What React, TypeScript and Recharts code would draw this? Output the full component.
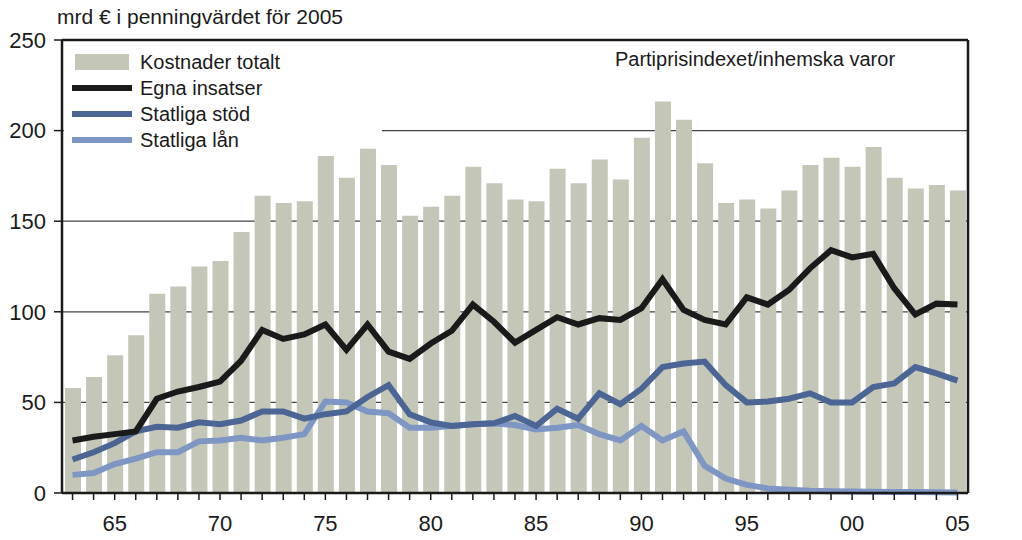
import { Bar, CartesianGrid, ComposedChart, Line, ReferenceLine, XAxis, YAxis } from 'recharts';

const years = [
  1963, 1964, 1965, 1966, 1967, 1968, 1969, 1970, 1971, 1972, 1973, 1974, 1975, 1976, 1977,
  1978, 1979, 1980, 1981, 1982, 1983, 1984, 1985, 1986, 1987, 1988, 1989, 1990, 1991, 1992,
  1993, 1994, 1995, 1996, 1997, 1998, 1999, 2000, 2001, 2002, 2003, 2004, 2005,
];

const kostnaderTotalt = [
  58, 64, 76, 87, 110, 114, 125, 128, 144, 164, 160, 161, 186, 174, 190,
  181, 153, 158, 164, 180, 171, 162, 161, 179, 171, 184, 173, 196, 216, 206,
  182, 160, 162, 157, 167, 181, 185, 180, 191, 174, 168, 170, 167,
];

const egnaInsatser = [
  29, 31, 32.5, 34, 52, 56, 58.5, 61.5, 73, 90, 85, 87.5, 93, 79, 93,
  78, 74, 82.5, 89.5, 104, 94.5, 83, 90, 97, 93, 96.5, 95.5, 102, 118, 101,
  95.5, 93, 108, 104, 112, 124, 134, 130, 132, 113, 98.5, 104.5, 104,
];

const statligaStod = [
  18.5, 22.5, 27.5, 34, 36.5, 36, 39, 38, 40, 45, 45, 41, 43.5, 45, 53,
  59.5, 43.5, 39, 37, 38, 38.5, 42.5, 37, 46.5, 41, 55, 49, 57.5, 69.5, 71.5,
  72.5, 59.5, 50, 50.5, 52, 55, 50, 50, 58.5, 60.5, 69.5, 66, 62,
];

const statligaLan = [
  10, 11, 16, 19, 22.5, 22.5, 28.5, 29, 30.5, 29, 30.5, 32.5, 50.5, 50, 45,
  44, 36, 36, 37, 38, 38.5, 37.5, 35, 36, 37.5, 32.5, 29, 37, 29, 34,
  15, 8, 4.5, 2.5, 1.8, 1.2, 1, 0.8, 0.7, 0.6, 0.5, 0.4, 0.3,
];

const seriesNames = ['Kostnader totalt', 'Egna insatser', 'Statliga stöd', 'Statliga lån'];
const seriesColors = ['#c4c6b8', '#1a1a1a', '#4b6694', '#7e96c4'];
const yTicks = [0, 50, 100, 150, 200, 250];

const title = 'mrd € i penningvärdet för 2005';
const note = 'Partiprisindexet/inhemska varor';

const data = years.map((year, i) => ({
  year,
  kostnader: kostnaderTotalt[i],
  egna: egnaInsatser[i],
  stod: statligaStod[i],
  lan: statligaLan[i],
}));

const FONT = '"Liberation Sans", Arial, sans-serif';
const tickStyle = { fontSize: 22, fill: '#1a1a1a', fontFamily: FONT };

const formatYear = (value: number) => (value % 5 === 0 ? String(value).slice(2) : '');

function ChartLegend() {
  return (
    <div
      style={{
        position: 'absolute',
        left: 64,
        top: 43,
        width: 318,
        height: 104,
        background: '#fff',
        fontFamily: FONT,
        fontSize: 20,
        color: '#1a1a1a',
      }}
    >
      {seriesNames.map((name, i) => (
        <div key={name} style={{ position: 'absolute', left: 0, top: 7 + i * 26, height: 24, display: 'flex', alignItems: 'center' }}>
          <div style={{ width: 76, display: 'flex', justifyContent: 'center' }}>
            {i === 0 ? (
              <div style={{ width: 54, height: 16, background: seriesColors[0] }} />
            ) : (
              <div style={{ width: 60, height: 6, background: seriesColors[i] }} />
            )}
          </div>
          <span>{name}</span>
        </div>
      ))}
    </div>
  );
}

export default function App() {
  return (
    <div style={{ position: 'absolute', left: 0, top: 0, width: 1022, height: 540, background: '#fff', fontFamily: FONT }}>
      <ComposedChart width={1022} height={540} data={data} margin={{ top: 40, right: 0, bottom: 0, left: 0 }}>
        <CartesianGrid vertical={false} yAxisId="left" stroke="#444" strokeWidth={1.2} />
        <XAxis
          dataKey="year"
          interval={0}
          tickFormatter={formatYear}
          tick={tickStyle}
          tickLine={{ stroke: '#1a1a1a', strokeWidth: 1.5 }}
          axisLine={{ stroke: '#1a1a1a', strokeWidth: 2.5 }}
          tickSize={7}
          tickMargin={15}
          height={47}
        />
        <YAxis
          yAxisId="left"
          domain={[0, 250]}
          ticks={yTicks}
          width={62}
          tick={tickStyle}
          tickLine={{ stroke: '#1a1a1a', strokeWidth: 1.5 }}
          axisLine={{ stroke: '#1a1a1a', strokeWidth: 2.5 }}
          tickSize={8}
          tickMargin={8}
        />
        <YAxis
          yAxisId="right"
          orientation="right"
          domain={[0, 250]}
          ticks={yTicks}
          width={54}
          tick={tickStyle}
          tickLine={{ stroke: '#1a1a1a', strokeWidth: 1.5 }}
          axisLine={{ stroke: '#1a1a1a', strokeWidth: 2.5 }}
          tickSize={8}
          tickMargin={8}
        />
        <Bar yAxisId="left" dataKey="kostnader" name={seriesNames[0]} fill={seriesColors[0]} barSize={16} isAnimationActive={false} />
        <Line yAxisId="left" dataKey="lan" name={seriesNames[3]} stroke={seriesColors[3]} strokeWidth={6} dot={false} activeDot={false} isAnimationActive={false} />
        <Line yAxisId="left" dataKey="stod" name={seriesNames[2]} stroke={seriesColors[2]} strokeWidth={6} dot={false} activeDot={false} isAnimationActive={false} />
        <Line yAxisId="left" dataKey="egna" name={seriesNames[1]} stroke={seriesColors[1]} strokeWidth={6} dot={false} activeDot={false} isAnimationActive={false} />
        <ReferenceLine yAxisId="left" y={250} stroke="#1a1a1a" strokeWidth={2.5} />
      </ComposedChart>
      <div style={{ position: 'absolute', left: 57, top: 5, fontSize: 21, color: '#1a1a1a' }}>{title}</div>
      <div style={{ position: 'absolute', left: 560, width: 390, top: 48, fontSize: 20, color: '#1a1a1a', textAlign: 'center' }}>{note}</div>
      <ChartLegend />
    </div>
  );
}
